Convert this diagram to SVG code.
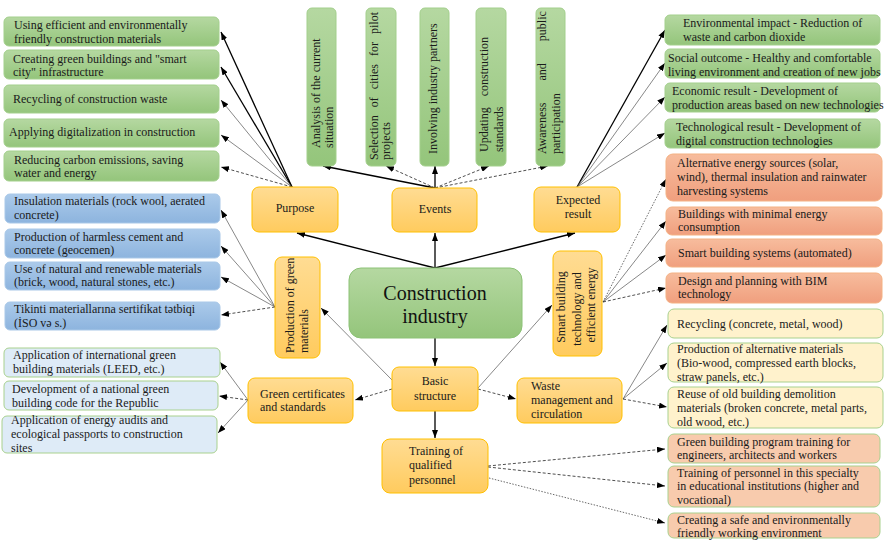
<svg xmlns="http://www.w3.org/2000/svg" width="884" height="541" viewBox="0 0 884 541">
<defs>
<linearGradient id="gGreen" x1="0" y1="0" x2="0" y2="1"><stop offset="0" stop-color="#b5d8a1"/><stop offset="1" stop-color="#94c57b"/></linearGradient>
<linearGradient id="gOrange" x1="0" y1="0" x2="0" y2="1"><stop offset="0" stop-color="#ffdc93"/><stop offset="1" stop-color="#ffcb5e"/></linearGradient>
<linearGradient id="gBlue" x1="0" y1="0" x2="0" y2="1"><stop offset="0" stop-color="#abcaea"/><stop offset="1" stop-color="#8db4de"/></linearGradient>
<linearGradient id="gRed" x1="0" y1="0" x2="0" y2="1"><stop offset="0" stop-color="#f7bc9d"/><stop offset="1" stop-color="#f09f7e"/></linearGradient>
<marker id="ah" viewBox="0 0 8 6" markerWidth="8" markerHeight="6" refX="8" refY="3" orient="auto" markerUnits="userSpaceOnUse"><path d="M0,0 L8,3 L0,6 z" fill="#000"/></marker>
</defs>
<style>
.t{font-family:"Liberation Serif","Times New Roman",serif;font-size:12px;fill:#1a1a1a}
.c{text-anchor:middle}
.big{font-size:20px;fill:#111}
.green{fill:url(#gGreen);stroke:#a3cf8c;stroke-width:1}
.orange{fill:url(#gOrange);stroke:#ffc000;stroke-width:1}
.blue{fill:url(#gBlue);stroke:#a9c8e8;stroke-width:1}
.red{fill:url(#gRed);stroke:#f4b183;stroke-width:1}
.ly{fill:#fff2cc;stroke:#a9d18e;stroke-width:1}
.pe{fill:#f8cbad;stroke:#a9d18e;stroke-width:1}
.lb{fill:#deebf7;stroke:#a9d18e;stroke-width:1}
.s{stroke:#000;stroke-width:1.3;fill:none;marker-end:url(#ah)}
.g{stroke:#555;stroke-width:0.7;fill:none;marker-end:url(#ah)}
.d{stroke:#222;stroke-width:0.8;stroke-dasharray:3 2;fill:none;marker-end:url(#ah)}
.f{stroke:#444;stroke-width:0.8;stroke-dasharray:1.5 1.5;fill:none;marker-end:url(#ah)}
</style>
<rect width="884" height="541" fill="#fff"/>

<g id="connectors">
<path class="s" d="M435,268 L297,233"/>
<path class="s" d="M435,268 L435,233"/>
<path class="s" d="M435,268 L575,233"/>
<path class="s" d="M435,338 L435,366"/>
<path class="s" d="M435,411 L435,438"/>
<path class="g" d="M478,388 L552,305"/>
<path class="d" d="M478,389 L516,399"/>
<path class="g" d="M392,380 L321,308"/>
<path class="d" d="M392,389 L355,400"/>

<path class="s" d="M292,187 L221,32"/>
<path class="s" d="M292,187 L221,67"/>
<path class="g" d="M292,187 L221,100"/>
<path class="g" d="M292,187 L221,135"/>
<path class="d" d="M292,187 L221,167"/>

<path class="s" d="M435,188 L323,166"/>
<path class="d" d="M435,188 L386,166"/>
<path class="s" d="M435,188 L435,166"/>
<path class="d" d="M435,188 L489,166"/>
<path class="d" d="M435,188 L548,166"/>

<path class="s" d="M577,187 L665,30"/>
<path class="g" d="M577,187 L665,63"/>
<path class="g" d="M577,187 L665,97"/>
<path class="g" d="M577,187 L665,133"/>

<path class="f" d="M603,302 L666,179"/>
<path class="g" d="M603,302 L666,221"/>
<path class="g" d="M603,302 L666,255"/>
<path class="d" d="M603,302 L666,288"/>

<path class="g" d="M275,307 L221,210"/>
<path class="g" d="M275,307 L221,246"/>
<path class="g" d="M275,307 L221,277"/>
<path class="d" d="M275,307 L221,315"/>

<path class="g" d="M248,400 L220,362"/>
<path class="d" d="M248,400 L219,396"/>
<path class="g" d="M248,400 L218,433"/>

<path class="g" d="M623,399 L667,325"/>
<path class="g" d="M623,399 L667,363"/>
<path class="d" d="M623,399 L667,407"/>

<path class="d" d="M488,466 L665,449"/>
<path class="d" d="M488,467 L665,486"/>
<path class="f" d="M489,478 L665,523"/>
</g>

<g id="center"><rect class="green" x="349" y="268" width="173" height="70" rx="12" style="stroke:#8cc276"/>
<text class="t c big" x="435" y="300">Construction</text><text class="t c big" x="435" y="323">industry</text></g>

<g id="purpose"><rect class="orange" x="252" y="187" width="86" height="45" rx="7"/><text class="t c" x="295" y="212">Purpose</text></g>
<g id="events"><rect class="orange" x="392" y="188" width="85" height="44" rx="7"/><text class="t c" x="435" y="213">Events</text></g>
<g id="expected"><rect class="orange" x="534" y="187" width="86" height="45" rx="7"/><text class="t c" x="578" y="204">Expected</text><text class="t c" x="578" y="218">result</text></g>
<g id="prodgreen"><rect class="orange" x="275" y="257" width="45" height="101" rx="7"/><text class="t" transform="translate(294,353) rotate(-90)">Production of green</text><text class="t" transform="translate(308,353) rotate(-90)">materials</text></g>
<g id="smart"><rect class="orange" x="553" y="251" width="49" height="105" rx="7"/><text class="t c" transform="translate(565,307) rotate(-90)">Smart building</text><text class="t c" transform="translate(581,309) rotate(-90)">technology and</text><text class="t c" transform="translate(595,305) rotate(-90)">efficient energy</text></g>
<g id="basic"><rect class="orange" x="392" y="367" width="86" height="44" rx="7"/><text class="t c" x="435" y="385">Basic</text><text class="t c" x="435" y="400">structure</text></g>
<g id="waste"><rect class="orange" x="517" y="378" width="105" height="45" rx="7"/><text class="t" x="531" y="390">Waste</text><text class="t" x="531" y="404">management and</text><text class="t" x="531" y="418">circulation</text></g>
<g id="training"><rect class="orange" x="382" y="439" width="106" height="54" rx="8"/><text class="t" x="409" y="455">Training of</text><text class="t" x="409" y="469">qualified</text><text class="t" x="409" y="484">personnel</text></g>
<g id="greencert"><rect class="orange" x="248" y="378" width="105" height="45" rx="7"/><text class="t" x="260" y="398">Green certificates</text><text class="t" x="260" y="411">and standards</text></g>

<g id="p1"><rect class="green" x="4" y="17" width="215" height="29" rx="5"/><text class="t" x="14" y="29">Using efficient and environmentally</text><text class="t" x="14" y="43">friendly construction materials</text></g>
<g id="p2"><rect class="green" x="4" y="50" width="215" height="29" rx="5"/><text class="t" x="13" y="63">Creating green buildings and "smart</text><text class="t" x="13" y="76">city" infrastructure</text></g>
<g id="p3"><rect class="green" x="4" y="85" width="215" height="28" rx="5"/><text class="t" x="13" y="103">Recycling of construction waste</text></g>
<g id="p4"><rect class="green" x="4" y="119" width="215" height="28" rx="5"/><text class="t" x="9" y="136">Applying digitalization in construction</text></g>
<g id="p5"><rect class="green" x="4" y="151" width="215" height="30" rx="5"/><text class="t" x="14" y="164">Reducing carbon emissions, saving</text><text class="t" x="14" y="177">water and energy</text></g>

<g id="e1"><rect class="green" x="307" y="8" width="29" height="158" rx="5"/><text class="t" transform="translate(320,148) rotate(-90)">Analysis of the current</text><text class="t" transform="translate(333,148) rotate(-90)">situation</text></g>
<g id="e2"><rect class="green" x="366" y="8" width="30" height="158" rx="5"/><text class="t" transform="translate(378,160) rotate(-90)" style="word-spacing:5px">Selection of cities for pilot</text><text class="t" transform="translate(390,160) rotate(-90)">projects</text></g>
<g id="e3"><rect class="green" x="420" y="8" width="29" height="158" rx="5"/><text class="t" transform="translate(437,154) rotate(-90)">Involving industry partners</text></g>
<g id="e4"><rect class="green" x="476" y="8" width="30" height="158" rx="5"/><text class="t" transform="translate(488,152) rotate(-90)" style="word-spacing:8px">Updating construction</text><text class="t" transform="translate(503,152) rotate(-90)">standards</text></g>
<g id="e5"><rect class="green" x="536" y="8" width="29" height="158" rx="5"/><text class="t" transform="translate(546,154) rotate(-90)" style="word-spacing:19px">Awareness and public</text><text class="t" transform="translate(560,154) rotate(-90)">participation</text></g>

<g id="r1"><rect class="green" x="665" y="15" width="215" height="30" rx="5"/><text class="t" x="683" y="27">Environmental impact - Reduction of</text><text class="t" x="683" y="41">waste and carbon dioxide</text></g>
<g id="r2"><rect class="green" x="665" y="49" width="215" height="29" rx="5"/><text class="t" x="668" y="62">Social outcome - Healthy and comfortable</text><text class="t" x="668" y="76">living environment and creation of new jobs</text></g>
<g id="r3"><rect class="green" x="665" y="83" width="215" height="29" rx="5"/><text class="t" x="672" y="95">Economic result - Development of</text><text class="t" x="672" y="109">production areas based on new technologies</text></g>
<g id="r4"><rect class="green" x="665" y="119" width="215" height="29" rx="5"/><text class="t" x="676" y="131">Technological result - Development of</text><text class="t" x="676" y="145">digital construction technologies</text></g>

<g id="s1"><rect class="red" x="666" y="154" width="216" height="47" rx="7"/><text class="t" x="677" y="167">Alternative energy sources (solar,</text><text class="t" x="677" y="181">wind), thermal insulation and rainwater</text><text class="t" x="677" y="195">harvesting systems</text></g>
<g id="s2"><rect class="red" x="666" y="207" width="216" height="28" rx="6"/><text class="t" x="678" y="218">Buildings with minimal energy</text><text class="t" x="678" y="231">consumption</text></g>
<g id="s3"><rect class="red" x="666" y="239" width="216" height="28" rx="6"/><text class="t" x="678" y="257">Smart building systems (automated)</text></g>
<g id="s4"><rect class="red" x="666" y="273" width="216" height="30" rx="6"/><text class="t" x="678" y="285">Design and planning with BIM</text><text class="t" x="678" y="298">technology</text></g>

<g id="m1"><rect class="blue" x="5" y="194" width="215" height="29" rx="5"/><text class="t" x="14" y="205">Insulation materials (rock wool, aerated</text><text class="t" x="14" y="219">concrete)</text></g>
<g id="m2"><rect class="blue" x="5" y="229" width="215" height="29" rx="5"/><text class="t" x="14" y="241">Production of harmless cement and</text><text class="t" x="14" y="254">concrete (geocemen)</text></g>
<g id="m3"><rect class="blue" x="5" y="262" width="215" height="28" rx="5"/><text class="t" x="14" y="273">Use of natural and renewable materials</text><text class="t" x="14" y="286">(brick, wood, natural stones, etc.)</text></g>
<g id="m4"><rect class="blue" x="5" y="302" width="215" height="28" rx="5"/><text class="t" x="14" y="313">Tikinti materiallarına sertifikat tətbiqi</text><text class="t" x="14" y="327">(İSO və s.)</text></g>

<g id="c1"><rect class="lb" x="4" y="348" width="216" height="29" rx="5"/><text class="t" x="13" y="359">Application of international green</text><text class="t" x="13" y="373">building materials (LEED, etc.)</text></g>
<g id="c2"><rect class="lb" x="4" y="381" width="214" height="29" rx="5"/><text class="t" x="12" y="393">Development of a national green</text><text class="t" x="12" y="407">building code for the Republic</text></g>
<g id="c3"><rect class="lb" x="2" y="416" width="215" height="37" rx="5"/><text class="t" x="11" y="424">Application of energy audits and</text><text class="t" x="11" y="438">ecological passports to construction</text><text class="t" x="11" y="452">sites</text></g>

<g id="w1"><rect class="ly" x="668" y="309" width="215" height="29" rx="6"/><text class="t" x="677" y="328">Recycling (concrete, metal, wood)</text></g>
<g id="w2"><rect class="ly" x="668" y="343" width="215" height="39" rx="6"/><text class="t" x="677" y="353">Production of alternative materials</text><text class="t" x="677" y="367">(Bio-wood, compressed earth blocks,</text><text class="t" x="677" y="381">straw panels, etc.)</text></g>
<g id="w3"><rect class="ly" x="668" y="387" width="215" height="41" rx="6"/><text class="t" x="677" y="398">Reuse of old building demolition</text><text class="t" x="677" y="412">materials (broken concrete, metal parts,</text><text class="t" x="677" y="426">old wood, etc.)</text></g>

<g id="t1"><rect class="pe" x="668" y="434" width="212" height="29" rx="6"/><text class="t" x="677" y="446">Green building program training for</text><text class="t" x="677" y="459">engineers, architects and workers</text></g>
<g id="t2"><rect class="pe" x="668" y="466" width="212" height="41" rx="6"/><text class="t" x="677" y="477">Training of personnel in this specialty</text><text class="t" x="677" y="490">in educational institutions (higher and</text><text class="t" x="677" y="504">vocational)</text></g>
<g id="t3"><rect class="pe" x="668" y="513" width="212" height="25" rx="6"/><text class="t" x="677" y="524">Creating a safe and environmentally</text><text class="t" x="677" y="537">friendly working environment</text></g>
</svg>
